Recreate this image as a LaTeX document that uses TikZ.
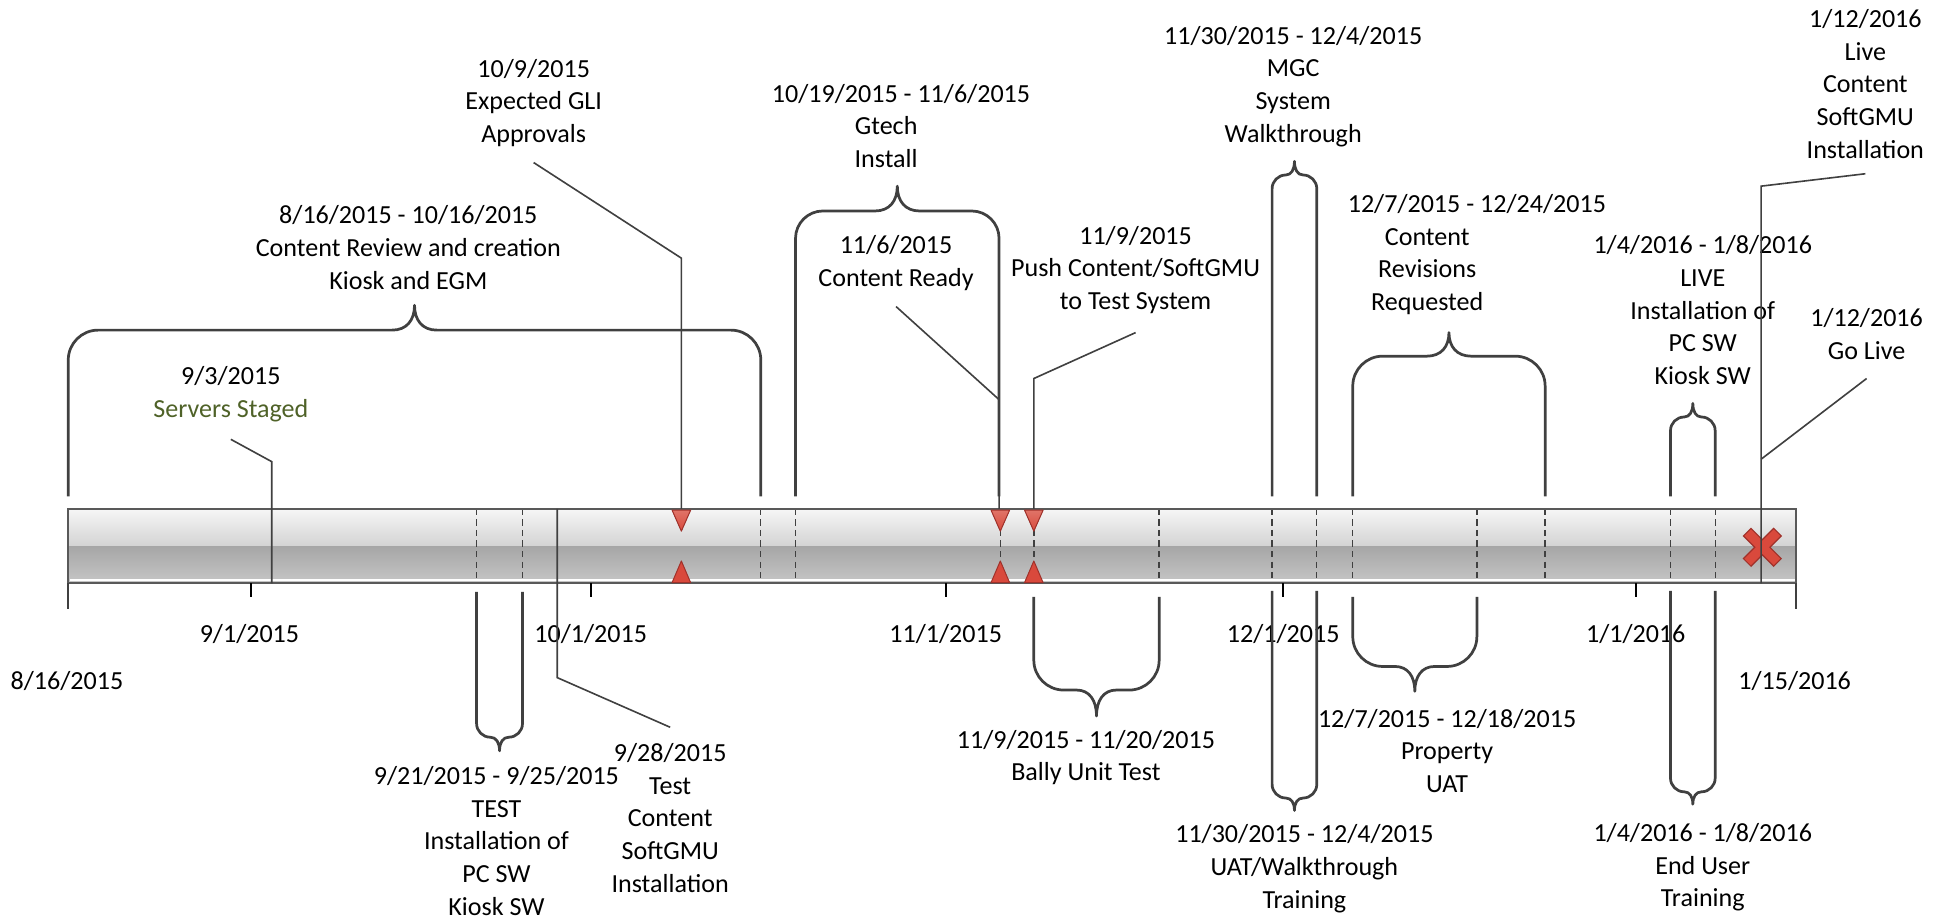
\documentclass[tikz,border=0pt]{standalone}
\usepackage{fontspec}
\setmainfont{Carlito}
\definecolor{ln}{HTML}{404040}
\definecolor{bord}{HTML}{595959}
\definecolor{grn}{HTML}{4F6228}
\definecolor{redf}{HTML}{D9493C}
\definecolor{redl}{HTML}{E07468}
\definecolor{redd}{HTML}{A0312A}
\definecolor{barA}{HTML}{F6F6F6}
\definecolor{barB}{HTML}{D3D3D3}
\definecolor{barC}{HTML}{A6A6A6}
\definecolor{barD}{HTML}{C6C6C6}
\tikzset{
  lbl/.style={align=center, inner sep=0pt, font=\fontsize{21pt}{26.3pt}\selectfont},
  bracestyle/.style={draw=ln, line width=2.2pt, line join=round},
  leader/.style={draw=ln, line width=1.3pt},
  dashline/.style={draw=ln, line width=1.1pt, dash pattern=on 5pt off 3.5pt},
  tickmark/.style={draw=black, line width=1.5pt},
  endtick/.style={draw=ln, line width=1.8pt},
  tri/.style={draw=redd, line width=0.8pt, line join=round},
}
% xl xr yb yh yt r s
\newcommand{\tlbrace}[7]{%
  \pgfmathsetmacro\bxm{(#1+#2)/2}%
  \pgfmathsetmacro\byc{#4+#6*sign(#3-#4)}%
  \draw[bracestyle] (#1,#3) -- (#1,\byc)
    .. controls (#1,{#4+0.45*(\byc-#4)}) and ({#1+0.45*#6},#4) .. ({#1+#6},#4)
    -- ({\bxm-#7},#4)
    .. controls ({\bxm-0.35*#7},#4) and (\bxm,{#4+0.4*(#5-#4)}) .. (\bxm,#5)
    .. controls (\bxm,{#4+0.4*(#5-#4)}) and ({\bxm+0.35*#7},#4) .. ({\bxm+#7},#4)
    -- ({#2-#6},#4)
    .. controls ({#2-0.45*#6},#4) and (#2,{#4+0.45*(\byc-#4)}) .. (#2,\byc)
    -- (#2,#3);
}
\newcommand{\tridown}[1]{\fill[tri, top color=redl, bottom color=redf] ({#1-7.5},411) -- ({#1+7.5},411) -- (#1,428) -- cycle;}
\newcommand{\triup}[1]{\fill[tri, fill=redf] ({#1-7.5},469.5) -- ({#1+7.5},469.5) -- (#1,452) -- cycle;}
\begin{document}
\begin{tikzpicture}[x=1pt,y=-1pt]
\useasboundingbox (0,0) rectangle (1568,740.5);
% ---- bar ----
\shade[top color=barA,bottom color=barB] (55,410) rectangle (1447,440);
\shade[top color=barC,bottom color=barD] (55,440) rectangle (1447,470);
\draw[white,line width=1.2pt] (56,467.4) -- (1446,467.4);
\foreach \x in {384,421,613,641,806,833,934,1025,1061,1090,1190,1245,1346,1382}
  \draw[dashline] (\x,410) -- (\x,470);
\draw[bord,line width=1.4pt] (55,410) rectangle (1447,470);
% ---- axis ticks ----
\foreach \x in {202,476,762,1034,1318} \draw[tickmark] (\x,470) -- (\x,481);
\draw[endtick] (55,470) -- (55,491);
\draw[endtick] (1447,470) -- (1447,491);
% ---- markers ----
\foreach \x in {549,806,833} {\tridown{\x} \triup{\x}}
\draw[redd,line width=9.6pt] (1407.5,428.5) -- (1432.5,453.5) (1407.5,453.5) -- (1432.5,428.5);
\draw[redf,line width=7.4pt] (1408.2,429.2) -- (1431.8,452.8) (1408.2,452.8) -- (1431.8,429.2);
% ---- axis labels ----
\node[lbl] (d0816) at (54,549) {8/16/2015};
\node[lbl] (d0901) at (201,511) {9/1/2015};
\node[lbl] (d1001) at (476,511) {10/1/2015};
\node[lbl] (d1101) at (762,511) {11/1/2015};
\node[lbl] (d1201) at (1034,511) {12/1/2015};
\node[lbl] (d0101) at (1318,511) {1/1/2016};
\node[lbl] (d0115) at (1446,549) {1/15/2016};
% ---- top labels ----
\node[lbl] (lServers) at (186,317.5) {9/3/2015\\\textcolor{grn}{Servers Staged}};
\node[lbl] (lReview) at (329,199.5) {8/16/2015 - 10/16/2015\\Content Review and creation\\Kiosk and EGM};
\node[lbl] (lGLI) at (430,83) {10/9/2015\\Expected GLI\\Approvals};
\node[lbl] (lGtech) at (714,101.5) {\hspace*{24pt}10/19/2015 - 11/6/2015\\Gtech\\Install};
\node[lbl] (lReady) at (722,212) {11/6/2015\\Content Ready};
\node[lbl] (lPush) at (915,217.5) {11/9/2015\\Push Content/SoftGMU\\to Test System};
\node[lbl] (lMGC) at (1042,69.5) {11/30/2015 - 12/4/2015\\MGC\\System\\Walkthrough};
\node[lbl] (lRev) at (1150,205) {\hspace*{80pt}12/7/2015 - 12/24/2015\\Content\\Revisions\\Requested};
\node[lbl] (lLive) at (1372,250) {1/4/2016 - 1/8/2016\\LIVE\\Installation of\\PC SW\\Kiosk SW};
\node[lbl] (lLiveC) at (1503,67.5) {1/12/2016\\Live\\Content\\SoftGMU\\Installation};
\node[lbl] (lGoLive) at (1504,269) {1/12/2016\\Go Live};
% ---- bottom labels ----
\node[lbl] (lTest) at (400,677.5) {9/21/2015 - 9/25/2015\\TEST\\Installation of\\PC SW\\Kiosk SW};
\node[lbl] (lTestC) at (540,659) {9/28/2015\\Test\\Content\\SoftGMU\\Installation};
\node[lbl] (lBally) at (875,610.5) {11/9/2015 - 11/20/2015\\Bally Unit Test};
\node[lbl] (lUAT) at (1051,700) {11/30/2015 - 12/4/2015\\UAT/Walkthrough\\Training};
\node[lbl] (lProp) at (1166,605) {12/7/2015 - 12/18/2015\\Property\\UAT};
\node[lbl] (lEnd) at (1372,699) {1/4/2016 - 1/8/2016\\End User\\Training};
% ---- leader coordinates ----
\coordinate (sA) at (219,470); \coordinate (sB) at (219,372); \coordinate (sC) at (186,354);
\coordinate (tA) at (449,410); \coordinate (tB) at (449,546); \coordinate (tC) at (540,586);
\coordinate (gA) at (549,410); \coordinate (gB) at (549,208); \coordinate (gC) at (430,131);
\coordinate (rA) at (805,410); \coordinate (rB) at (805,322); \coordinate (rC) at (722,247);
\coordinate (pA) at (833,410); \coordinate (pB) at (833,305); \coordinate (pC) at (915,268);
\coordinate (lA) at (1419,470); \coordinate (lB) at (1419,150); \coordinate (lC) at (1503,140);
\coordinate (oA) at (1419,370); \coordinate (oC) at (1504,305);
\draw[leader] (sA) -- (sB) -- (sC);
\draw[leader] (tA) -- (tB) -- (tC);
\draw[leader] (gA) -- (gB) -- (gC);
\draw[leader] (rA) -- (rB) -- (rC);
\draw[leader] (pA) -- (pB) -- (pC);
\draw[leader] (lA) -- (lB) -- (lC);
\draw[leader] (oA) -- (oC);
% ---- braces above ----
\tlbrace{55}{613}{400}{266}{246}{24}{18}
\tlbrace{641}{805}{400}{170}{150}{22}{18}
\tlbrace{1025}{1061}{400}{141}{130}{11}{7}
\tlbrace{1090}{1245}{400}{287}{268}{24}{18}
\tlbrace{1346}{1382}{400}{336}{325}{11}{7}
% ---- braces below ----
\tlbrace{384}{421}{477}{594}{605}{11}{7.5}
\tlbrace{833}{934}{481}{556}{577}{24}{16}
\tlbrace{1025}{1061}{476}{643}{653}{11}{7}
\tlbrace{1090}{1190}{481}{537}{557}{24}{16}
\tlbrace{1346}{1382}{476}{638}{648}{11}{7}
\end{tikzpicture}
\end{document}
